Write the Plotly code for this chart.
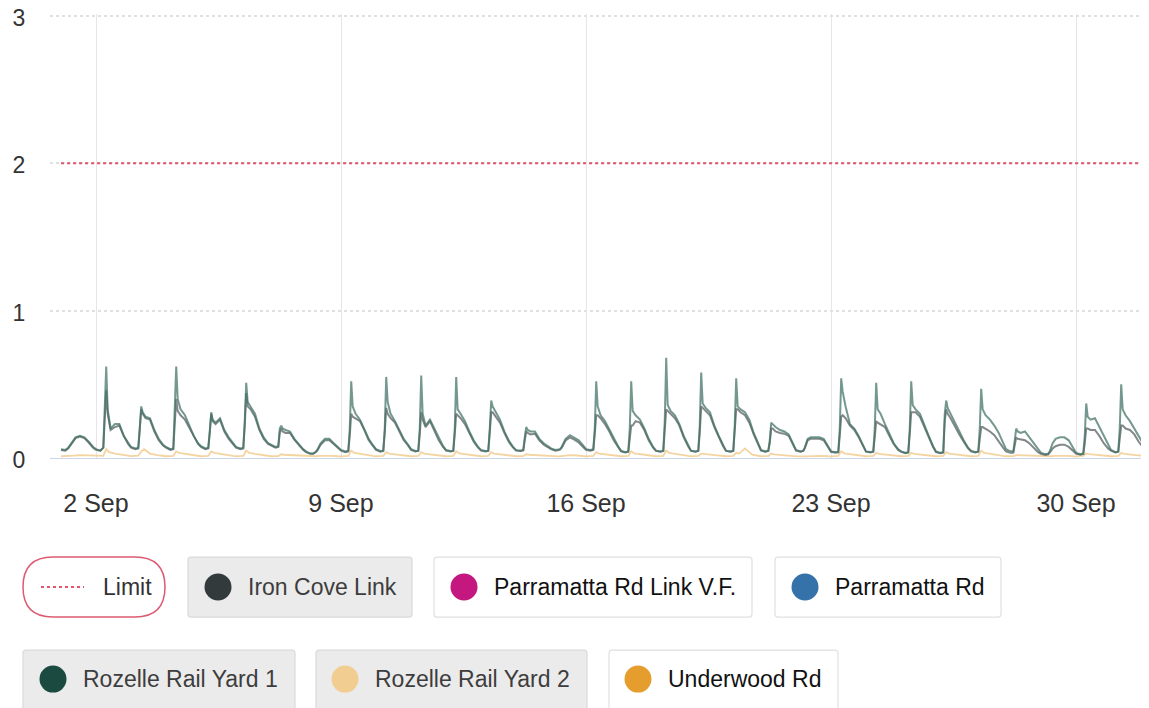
import plotly.graph_objects as go
import pandas as pd

# ---------------- data ----------------
day_labels = pd.date_range("2024-09-01", "2024-10-01", freq="D")
end_time = pd.Timestamp("2024-10-02 00:00")

hours_main = [0, 3, 5, 6, 7, 8, 10, 13, 16, 19, 22]

rozelle1_daily = [
    [0.06, 0.055, 0.07, 0.085, 0.1, 0.115, 0.14, 0.15, 0.14, 0.11, 0.075],
    [0.06, 0.05, 0.07, 0.3, 0.62, 0.33, 0.2, 0.23, 0.23, 0.15, 0.1],
    [0.075, 0.065, 0.07, 0.2, 0.35, 0.31, 0.28, 0.27, 0.19, 0.13, 0.09],
    [0.075, 0.06, 0.065, 0.3, 0.62, 0.4, 0.33, 0.29, 0.22, 0.15, 0.1],
    [0.08, 0.065, 0.07, 0.18, 0.31, 0.26, 0.24, 0.27, 0.19, 0.14, 0.1],
    [0.075, 0.065, 0.07, 0.25, 0.51, 0.38, 0.35, 0.3, 0.2, 0.14, 0.1],
    [0.09, 0.075, 0.08, 0.2, 0.22, 0.2, 0.19, 0.18, 0.13, 0.095, 0.06],
    [0.045, 0.03, 0.03, 0.035, 0.045, 0.06, 0.1, 0.13, 0.13, 0.1, 0.07],
    [0.055, 0.045, 0.05, 0.2, 0.52, 0.35, 0.3, 0.26, 0.2, 0.13, 0.085],
    [0.06, 0.048, 0.05, 0.2, 0.55, 0.38, 0.3, 0.25, 0.19, 0.13, 0.09],
    [0.06, 0.048, 0.05, 0.2, 0.56, 0.3, 0.22, 0.26, 0.2, 0.13, 0.08],
    [0.055, 0.048, 0.05, 0.2, 0.55, 0.33, 0.3, 0.25, 0.18, 0.12, 0.075],
    [0.055, 0.048, 0.05, 0.2, 0.39, 0.35, 0.31, 0.26, 0.18, 0.12, 0.075],
    [0.055, 0.05, 0.055, 0.14, 0.21, 0.19, 0.18, 0.18, 0.13, 0.1, 0.075],
    [0.065, 0.055, 0.055, 0.06, 0.07, 0.09, 0.13, 0.155, 0.14, 0.12, 0.085],
    [0.06, 0.055, 0.06, 0.2, 0.52, 0.35, 0.29, 0.25, 0.19, 0.13, 0.08],
    [0.05, 0.04, 0.045, 0.2, 0.52, 0.32, 0.29, 0.26, 0.2, 0.13, 0.075],
    [0.05, 0.045, 0.05, 0.25, 0.68, 0.36, 0.32, 0.29, 0.23, 0.15, 0.085],
    [0.05, 0.045, 0.05, 0.22, 0.58, 0.37, 0.34, 0.31, 0.22, 0.15, 0.085],
    [0.05, 0.045, 0.05, 0.22, 0.54, 0.35, 0.33, 0.31, 0.26, 0.17, 0.1],
    [0.055, 0.045, 0.05, 0.12, 0.24, 0.23, 0.21, 0.19, 0.18, 0.16, 0.09],
    [0.055, 0.045, 0.05, 0.07, 0.1, 0.13, 0.14, 0.14, 0.14, 0.13, 0.08],
    [0.045, 0.04, 0.04, 0.2, 0.54, 0.45, 0.35, 0.23, 0.2, 0.15, 0.09],
    [0.045, 0.04, 0.045, 0.2, 0.51, 0.33, 0.3, 0.23, 0.16, 0.1, 0.06],
    [0.045, 0.035, 0.04, 0.2, 0.52, 0.36, 0.33, 0.3, 0.22, 0.15, 0.08],
    [0.045, 0.035, 0.04, 0.3, 0.39, 0.34, 0.3, 0.23, 0.17, 0.12, 0.07],
    [0.05, 0.04, 0.045, 0.2, 0.47, 0.33, 0.29, 0.26, 0.22, 0.17, 0.11],
    [0.06, 0.045, 0.045, 0.12, 0.2, 0.18, 0.17, 0.18, 0.14, 0.1, 0.06],
    [0.035, 0.025, 0.03, 0.045, 0.07, 0.1, 0.13, 0.14, 0.14, 0.12, 0.07],
    [0.035, 0.025, 0.03, 0.15, 0.37, 0.28, 0.26, 0.27, 0.21, 0.15, 0.09],
    [0.055, 0.04, 0.045, 0.2, 0.5, 0.33, 0.29, 0.25, 0.2, 0.14, 0.09],
]
rozelle1_end = 0.065

iron_cove_daily = [
    [0.055, 0.05, 0.065, 0.08, 0.095, 0.11, 0.135, 0.145, 0.135, 0.105, 0.07],
    [0.055, 0.05, 0.07, 0.25, 0.46, 0.3, 0.19, 0.21, 0.22, 0.15, 0.095],
    [0.07, 0.06, 0.065, 0.18, 0.33, 0.3, 0.27, 0.26, 0.18, 0.12, 0.085],
    [0.07, 0.055, 0.06, 0.22, 0.4, 0.32, 0.29, 0.26, 0.21, 0.15, 0.095],
    [0.075, 0.06, 0.065, 0.17, 0.3, 0.25, 0.23, 0.26, 0.18, 0.13, 0.095],
    [0.07, 0.06, 0.065, 0.22, 0.44, 0.35, 0.33, 0.28, 0.19, 0.13, 0.095],
    [0.085, 0.07, 0.075, 0.17, 0.2, 0.18, 0.17, 0.17, 0.125, 0.09, 0.055],
    [0.04, 0.028, 0.028, 0.033, 0.042, 0.055, 0.09, 0.12, 0.12, 0.095, 0.065],
    [0.05, 0.04, 0.045, 0.15, 0.3, 0.28, 0.27, 0.25, 0.19, 0.12, 0.08],
    [0.055, 0.043, 0.048, 0.17, 0.34, 0.3, 0.27, 0.24, 0.18, 0.12, 0.085],
    [0.055, 0.045, 0.048, 0.16, 0.31, 0.26, 0.21, 0.25, 0.19, 0.12, 0.075],
    [0.05, 0.045, 0.048, 0.16, 0.3, 0.29, 0.27, 0.23, 0.17, 0.11, 0.07],
    [0.05, 0.045, 0.048, 0.17, 0.31, 0.31, 0.28, 0.24, 0.17, 0.11, 0.07],
    [0.05, 0.048, 0.052, 0.12, 0.18, 0.17, 0.16, 0.165, 0.12, 0.09, 0.07],
    [0.06, 0.05, 0.05, 0.055, 0.065, 0.08, 0.12, 0.14, 0.125, 0.105, 0.075],
    [0.055, 0.05, 0.055, 0.16, 0.29, 0.29, 0.27, 0.23, 0.18, 0.12, 0.075],
    [0.045, 0.038, 0.043, 0.13, 0.22, 0.22, 0.25, 0.24, 0.19, 0.12, 0.07],
    [0.048, 0.043, 0.048, 0.18, 0.33, 0.32, 0.3, 0.27, 0.22, 0.14, 0.08],
    [0.048, 0.043, 0.048, 0.17, 0.35, 0.34, 0.32, 0.29, 0.21, 0.14, 0.08],
    [0.048, 0.043, 0.048, 0.17, 0.33, 0.33, 0.31, 0.29, 0.24, 0.16, 0.095],
    [0.05, 0.043, 0.048, 0.1, 0.2, 0.2, 0.18, 0.17, 0.165, 0.15, 0.085],
    [0.05, 0.043, 0.048, 0.065, 0.09, 0.12, 0.13, 0.13, 0.13, 0.12, 0.075],
    [0.042, 0.035, 0.038, 0.15, 0.28, 0.29, 0.27, 0.22, 0.19, 0.14, 0.085],
    [0.043, 0.038, 0.043, 0.14, 0.25, 0.24, 0.23, 0.21, 0.15, 0.095, 0.055],
    [0.043, 0.033, 0.038, 0.16, 0.31, 0.31, 0.31, 0.28, 0.21, 0.14, 0.075],
    [0.04, 0.033, 0.038, 0.25, 0.33, 0.3, 0.27, 0.21, 0.16, 0.11, 0.065],
    [0.045, 0.038, 0.043, 0.13, 0.21, 0.21, 0.2, 0.18, 0.155, 0.11, 0.07],
    [0.045, 0.035, 0.035, 0.09, 0.14, 0.13, 0.125, 0.12, 0.1, 0.07, 0.04],
    [0.028, 0.02, 0.025, 0.035, 0.05, 0.065, 0.08, 0.09, 0.09, 0.075, 0.045],
    [0.03, 0.023, 0.028, 0.1, 0.2, 0.2, 0.19, 0.19, 0.15, 0.1, 0.065],
    [0.05, 0.038, 0.043, 0.13, 0.22, 0.22, 0.2, 0.19, 0.16, 0.11, 0.07],
]
iron_cove_end = 0.05

hours_rozelle2 = [0, 5, 7, 9, 13, 18, 22]
rozelle2_daily = [
    [0.012, 0.012, 0.014, 0.016, 0.02, 0.018, 0.014],
    [0.012, 0.015, 0.06, 0.04, 0.03, 0.022, 0.015],
    [0.013, 0.016, 0.045, 0.06, 0.03, 0.02, 0.014],
    [0.012, 0.015, 0.045, 0.035, 0.028, 0.02, 0.014],
    [0.012, 0.015, 0.045, 0.035, 0.027, 0.02, 0.014],
    [0.012, 0.015, 0.05, 0.035, 0.028, 0.02, 0.014],
    [0.012, 0.013, 0.025, 0.022, 0.02, 0.016, 0.013],
    [0.011, 0.011, 0.012, 0.014, 0.016, 0.015, 0.012],
    [0.011, 0.014, 0.05, 0.035, 0.027, 0.02, 0.014],
    [0.012, 0.014, 0.04, 0.03, 0.025, 0.019, 0.013],
    [0.012, 0.014, 0.04, 0.03, 0.025, 0.019, 0.013],
    [0.012, 0.014, 0.045, 0.032, 0.026, 0.02, 0.014],
    [0.012, 0.014, 0.04, 0.03, 0.025, 0.019, 0.013],
    [0.012, 0.013, 0.025, 0.022, 0.02, 0.016, 0.013],
    [0.011, 0.011, 0.013, 0.016, 0.02, 0.017, 0.012],
    [0.011, 0.014, 0.04, 0.03, 0.025, 0.019, 0.013],
    [0.012, 0.014, 0.045, 0.032, 0.026, 0.02, 0.014],
    [0.012, 0.015, 0.05, 0.035, 0.027, 0.02, 0.014],
    [0.012, 0.014, 0.03, 0.026, 0.023, 0.018, 0.013],
    [0.012, 0.015, 0.035, 0.03, 0.065, 0.022, 0.014],
    [0.012, 0.013, 0.03, 0.025, 0.02, 0.016, 0.013],
    [0.011, 0.011, 0.012, 0.014, 0.016, 0.015, 0.012],
    [0.011, 0.014, 0.045, 0.032, 0.026, 0.02, 0.014],
    [0.012, 0.014, 0.035, 0.028, 0.024, 0.018, 0.013],
    [0.012, 0.014, 0.035, 0.028, 0.024, 0.018, 0.013],
    [0.012, 0.014, 0.04, 0.03, 0.025, 0.019, 0.013],
    [0.012, 0.015, 0.05, 0.035, 0.027, 0.02, 0.014],
    [0.012, 0.013, 0.02, 0.019, 0.018, 0.015, 0.012],
    [0.011, 0.011, 0.012, 0.014, 0.016, 0.015, 0.012],
    [0.011, 0.014, 0.03, 0.026, 0.023, 0.018, 0.013],
    [0.012, 0.014, 0.035, 0.028, 0.024, 0.018, 0.013],
]
rozelle2_end = 0.012

limit_value = 2
x_tick_dates = ["2024-09-02", "2024-09-09", "2024-09-16", "2024-09-23", "2024-09-30"]
x_tick_text = ["2 Sep", "9 Sep", "16 Sep", "23 Sep", "30 Sep"]
y_tick_vals = [0, 1, 2, 3]
y_max = 3.012  # a hair above 3 so the top gridline and label are kept

legend_names = ["Limit", "Iron Cove Link", "Parramatta Rd Link V.F.", "Parramatta Rd",
                "Rozelle Rail Yard 1", "Rozelle Rail Yard 2", "Underwood Rd"]
legend_colors = ["#dc5b72", "#333a3c", "#c4177f", "#3572a9", "#1b4a40", "#f2cd91", "#e59e2e"]
legend_active = [False, True, False, False, True, True, False]


def build_series(days, hours, daily, end_val):
    xs, ys = [], []
    for d, row in zip(days, daily):
        for h, v in zip(hours, row):
            xs.append(d + pd.Timedelta(hours=h))
            ys.append(v)
    xs.append(end_time)
    ys.append(end_val)
    return xs, ys


x_r1, y_r1 = build_series(day_labels, hours_main, rozelle1_daily, rozelle1_end)
x_ic, y_ic = build_series(day_labels, hours_main, iron_cove_daily, iron_cove_end)
x_r2, y_r2 = build_series(day_labels, hours_rozelle2, rozelle2_daily, rozelle2_end)

# ---------------- layout geometry ----------------
# The page body adds an 8px offset, so the figure is drawn smaller and all
# positions below are given in page pixels and converted.
OFFX, OFFY = 8, 8
W, H = 1149 - OFFX, 708 - OFFY
PB = 458                       # y = 0 in page pixels
UNIT = (458 - 16) / 3.0        # page pixels per unit (3 sits at y=16)
PT = PB - y_max * UNIT         # top of plot area in page pixels
PL, PR = 50, 1146
FONT = "Liberation Sans, Arial, sans-serif"


def fx(px):
    return (px - PL) / (PR - PL)


def fy(py):
    return (PB - py) / (PB - PT)


def rrect_path(x0, y0, x1, y1, r):
    pts = [
        ("M", [(x0 + r, y0)]),
        ("L", [(x1 - r, y0)]),
        ("Q", [(x1, y0), (x1, y0 + r)]),
        ("L", [(x1, y1 - r)]),
        ("Q", [(x1, y1), (x1 - r, y1)]),
        ("L", [(x0 + r, y1)]),
        ("Q", [(x0, y1), (x0, y1 - r)]),
        ("L", [(x0, y0 + r)]),
        ("Q", [(x0, y0), (x0 + r, y0)]),
    ]
    s = ""
    for cmd, ps in pts:
        s += cmd + " " + " ".join(f"{fx(a):.5f},{fy(b):.5f}" for a, b in ps) + " "
    return s + "Z"


fig = go.Figure()

fig.add_trace(go.Scatter(x=x_r2, y=y_r2, mode="lines", name="Rozelle Rail Yard 2",
                         line=dict(color="rgba(242,205,145,0.85)", width=1.8)))
fig.add_trace(go.Scatter(x=x_ic, y=y_ic, mode="lines", name="Iron Cove Link",
                         line=dict(color="rgba(88,96,98,0.75)", width=2)))
fig.add_trace(go.Scatter(x=x_r1, y=y_r1, mode="lines", name="Rozelle Rail Yard 1",
                         line=dict(color="rgba(62,112,100,0.72)", width=2)))
fig.add_trace(go.Scatter(x=[day_labels[0], end_time], y=[limit_value, limit_value],
                         mode="lines", name="Limit",
                         line=dict(color="#e0566f", width=2, dash="dot")))

shapes = []
annotations = []

row1 = (557, 617)
row2 = (650, 711)
boxes = [
    (23, 165, row1, 30),
    (188, 412, row1, 3),
    (434, 752, row1, 3),
    (775, 1001, row1, 3),
    (23, 295, row2, 3),
    (316, 587, row2, 3),
    (609, 838, row2, 3),
]
circle_cx = [None, 218, 464, 805, 53, 345, 638]

for i, (name, col, act) in enumerate(zip(legend_names, legend_colors, legend_active)):
    x0, x1, (y0, y1), r = boxes[i]
    cy = (y0 + y1) / 2 if i < 4 else 679
    if i == 0:
        fill, border, bw = "#ffffff", "#dc5b72", 1.5
    else:
        fill = "#ebebeb" if act else "#ffffff"
        border = "#dadada" if act else "#e0e0e0"
        bw = 1.2
    shapes.append(dict(type="path", xref="paper", yref="paper",
                       path=rrect_path(x0, y0, x1, y1, r),
                       fillcolor=fill, line=dict(color=border, width=bw), layer="above"))
    if i == 0:
        shapes.append(dict(type="line", xref="paper", yref="paper",
                           x0=fx(41), x1=fx(84), y0=fy(cy), y1=fy(cy),
                           line=dict(color="#e0566f", width=2, dash="dot"), layer="above"))
        tx = 101
        tcol = "#333333"
    else:
        cx = circle_cx[i]
        rr = 13.5
        shapes.append(dict(type="circle", xref="paper", yref="paper",
                           x0=fx(cx - rr), x1=fx(cx + rr), y0=fy(cy + rr), y1=fy(cy - rr),
                           fillcolor=col, line=dict(color=col, width=0), layer="above"))
        tx = cx + 28
        tcol = "#3d3d3d" if act else "#111111"
    annotations.append(dict(x=fx(tx), y=fy(cy), xref="paper", yref="paper",
                            text=name, showarrow=False, xanchor="left", yanchor="middle",
                            font=dict(family=FONT, size=23, color=tcol)))

fig.update_layout(
    width=W, height=H, autosize=False,
    margin=dict(l=PL - OFFX, r=W - (PR - OFFX), t=PT - OFFY, b=H - (PB - OFFY), pad=0,
                autoexpand=False),
    paper_bgcolor="#ffffff", plot_bgcolor="#ffffff",
    showlegend=False,
    font=dict(family=FONT, size=23, color="#333333"),
    shapes=shapes, annotations=annotations,
    hovermode=False,
)
fig.update_xaxes(
    type="date",
    range=["2024-08-31 16:27", "2024-10-02 00:00"],
    tickvals=x_tick_dates, ticktext=x_tick_text,
    showgrid=True, gridcolor="#e6e6e6", gridwidth=1,
    showline=True, linecolor="#ccd6eb", linewidth=1.2,
    ticks="outside", ticklen=23, tickcolor="rgba(0,0,0,0)",
    tickfont=dict(family=FONT, size=25, color="#333333"),
    ticklabeloverflow="allow", automargin=False,
    zeroline=False, fixedrange=True,
)
fig.update_yaxes(
    range=[0, y_max], tickvals=y_tick_vals,
    showgrid=True, gridcolor="#e0e0e0", gridwidth=1.5, griddash="dot",
    showline=False, zeroline=False,
    ticks="outside", ticklen=19, tickcolor="rgba(0,0,0,0)",
    tickfont=dict(family=FONT, size=23, color="#333333"),
    ticklabelshift=2,
    ticklabeloverflow="allow", automargin=False,
    fixedrange=True,
)

fig.write_html("out.html", config={"displayModeBar": False})
